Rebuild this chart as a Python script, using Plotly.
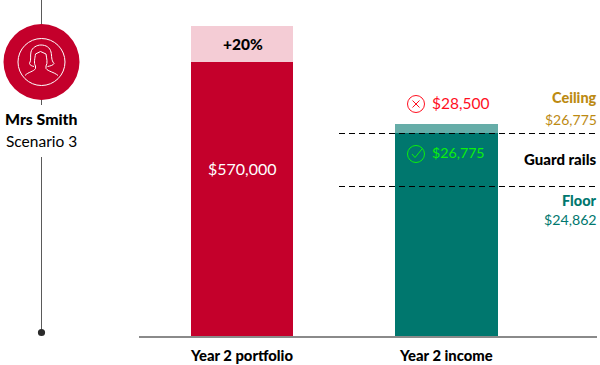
import plotly.graph_objects as go

W, H = 600, 365
categories = ["Year 2 portfolio", "Year 2 income"]
base_values = [274, 203]       # drawn height of the solid part, chart units (not to dollar scale)
top_values = [36, 9]           # drawn height of the paler part
guard_rails = [202.5, 149.5]
base_colors = ["#C4002B", "#00776E"]
top_colors = ["#F4CCD5", "#66ADA8"]
portfolio_label = "$570,000"
uplift_label = "+20%"
ceiling_label = "$26,775"
floor_label = "$24,862"
breach_label = "$28,500"
within_label = "$26,775"

FONT = "Lato"
RED = "#FF0F1F"
GREEN = "#0CF00C"
GOLD = "#BC8A12"
TEAL = "#00776E"
CRIMSON = "#C4002B"
LINE = "#5A5A5A"


def px(x):
    return x / W


def py(y):
    return 1 - y / H


def path(cmds):
    out = []
    for c in cmds:
        if isinstance(c, str):
            out.append(c)
        else:
            out.append(f"{px(c[0]):.5f},{py(c[1]):.5f}")
    return " ".join(out)


def circle(cx, cy, r, **kw):
    return dict(type="circle", xref="paper", yref="paper", x0=px(cx - r), x1=px(cx + r),
                y0=py(cy + r), y1=py(cy - r), **kw)


def seg(x0, y0, x1, y1, color, width=1.0, dash="solid"):
    return dict(type="line", xref="paper", yref="paper", x0=px(x0), x1=px(x1), y0=py(y0), y1=py(y1),
                line=dict(color=color, width=width, dash=dash))


fig = go.Figure()
fig.add_bar(x=categories, y=base_values, marker=dict(color=base_colors, line_width=0), hoverinfo="skip")
fig.add_bar(x=categories, y=top_values, marker=dict(color=top_colors, line_width=0), hoverinfo="skip")

person = path(["M", (25, 75.5), "C", (28, 72), (34, 71.5), (35.5, 68.5), "L", (35.5, 66),
               "C", (33.5, 63), (35, 58), (35.5, 54), "L", (40.5, 51.5), "L", (46, 54),
               "C", (46.5, 58), (48, 63), (46, 66), "L", (46, 68.5),
               "C", (48, 71.5), (54, 72), (58, 75.5)])
hair = path(["M", (34, 66.5), "C", (32, 66), (30, 65.5), (29.5, 63.5), "C", (31.5, 60), (30, 56), (31, 52),
             "C", (32, 47.5), (37, 45), (41, 45), "C", (46, 45), (50, 47.5), (51, 52),
             "C", (52, 56), (51, 60), (54, 63.5), "C", (53, 65.5), (50, 66), (47.5, 66.5)])

shapes = [
    seg(41.5, 0, 41.5, 105, LINE),
    seg(41.5, 157, 41.5, 332, LINE),
    circle(41.5, 332.5, 3.6, fillcolor="#2B2B2B", line_width=0),
    circle(41.5, 62, 38, fillcolor=CRIMSON, line_width=0),
    circle(41.5, 62, 23.5, line=dict(color="white", width=1)),
    dict(type="path", xref="paper", yref="paper", path=person, line=dict(color="white", width=1)),
    dict(type="path", xref="paper", yref="paper", path=hair, line=dict(color="white", width=1)),
    dict(type="line", xref="paper", yref="y", x0=px(339), x1=px(597), y0=guard_rails[0], y1=guard_rails[0],
         line=dict(color="black", width=1, dash="6px,4px")),
    dict(type="line", xref="paper", yref="y", x0=px(339), x1=px(597), y0=guard_rails[1], y1=guard_rails[1],
         line=dict(color="black", width=1, dash="6px,4px")),
    circle(416, 104, 8.5, line=dict(color=RED, width=1)),
    seg(412.5, 100.5, 419.5, 107.5, RED),
    seg(412.5, 107.5, 419.5, 100.5, RED),
    circle(416, 154, 8.5, line=dict(color=GREEN, width=1)),
    dict(type="path", xref="paper", yref="paper",
         path=path(["M", (412, 154), "L", (415, 157.5), "L", (422, 149)]),
         line=dict(color=GREEN, width=1)),
]


def label(x, y, text, color="black", size=14, bold=False, anchor="center"):
    return dict(xref="paper", yref="paper", x=px(x), y=py(y), text=text,
                showarrow=False, xanchor=anchor, yanchor="middle",
                font=dict(family=FONT, size=size, color=color, weight=900 if bold else 400),
                borderpad=0, borderwidth=0)


annotations = [
    label(41.5, 118, "Mrs Smith", size=15.8, bold=True),
    label(41.5, 141, "Scenario 3", size=15.5),
    label(242.5, 43.5, uplift_label, size=15.5, bold=True),
    label(242.5, 168.5, portfolio_label, color="white", size=16),
    label(432, 103, breach_label, color=RED, size=15.5, anchor="left"),
    label(432, 153, within_label, color=GREEN, size=14.2, anchor="left"),
    label(597, 97.5, "Ceiling", color=GOLD, size=14.5, bold=True, anchor="right"),
    label(597, 119.5, ceiling_label, color=GOLD, size=14, anchor="right"),
    label(597, 159.5, "Guard rails", size=15, bold=True, anchor="right"),
    label(597, 200.5, "Floor", color=TEAL, size=14.5, bold=True, anchor="right"),
    label(597, 219.5, floor_label, color=TEAL, size=14.2, anchor="right"),
]

fig.update_layout(
    width=W, height=H, barmode="stack", bargap=0.4975, showlegend=False,
    margin=dict(l=0, r=0, t=0, b=0), paper_bgcolor="white", plot_bgcolor="white",
    shapes=shapes, annotations=annotations,
    xaxis=dict(domain=[px(139), px(597)], range=[-0.504, 1.737], type="category",
               tickvals=categories, ticktext=categories, ticklabelstandoff=5,
               showline=True, linecolor="#8A8A8A", linewidth=1.5, showgrid=False, zeroline=False,
               ticks="", tickfont=dict(family=FONT, size=14.8, color="black", weight=900)),
    yaxis=dict(domain=[py(336), 1], range=[0, 336], visible=False, showgrid=False, zeroline=False),
)
fig.write_html("out.html", config=dict(displayModeBar=False), post_script="document.body.style.margin='0';")
